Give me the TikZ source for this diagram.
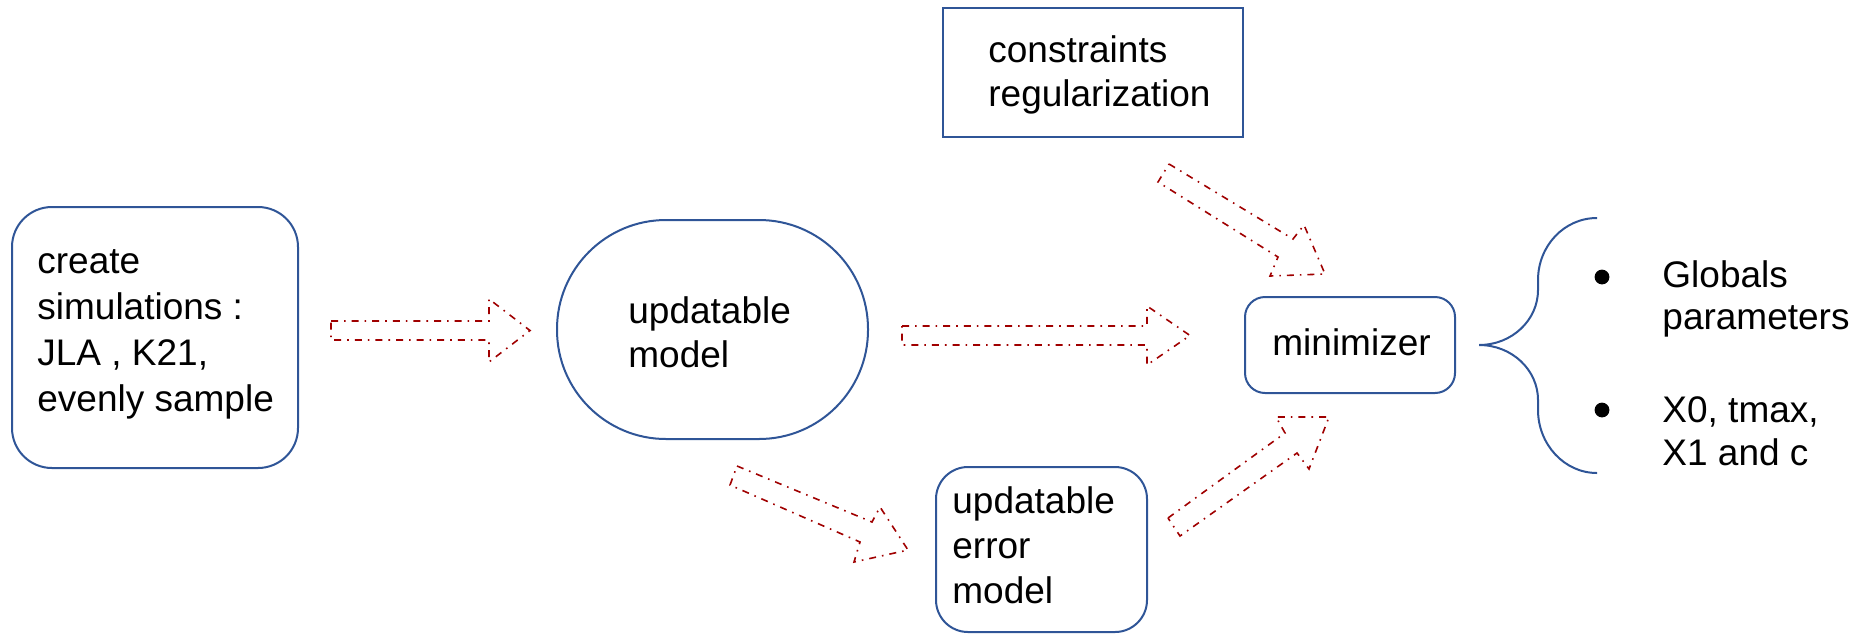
\documentclass[tikz,border=0pt]{standalone}
\usepackage{fontspec}
\setmainfont{Liberation Sans}
\usetikzlibrary{fit}
\definecolor{boxblue}{RGB}{47,85,151}
\definecolor{arrred}{RGB}{160,0,0}
\begin{document}
\begin{tikzpicture}[x=0.5pt,y=-0.5pt,
  box/.style={draw=boxblue, line width=1pt, inner sep=0pt},
  txt/.style={anchor=base west, inner sep=0pt, font=\fontsize{18.5}{23}\selectfont},
  blockarrow/.style={draw=arrred, line width=0.8pt, line join=miter,
     dash pattern=on 3.5pt off 3pt on 0.8pt off 3pt}]
\useasboundingbox (0,0) rectangle (1855,633);

% boxes
\node[box, rounded corners=20pt, fit={(12,207) (298,468)}] (create) {};
\node[box, rounded corners=54.5pt, fit={(557,220) (868,439)}] (model) {};
\node[box, fit={(943,8) (1243,137)}] (constr) {};
\node[box, rounded corners=10pt, fit={(1245,297) (1455,393)}] (minim) {};
\node[box, rounded corners=16pt, fit={(936,467) (1147,632)}] (errmod) {};

% texts
\node[txt] (t1) at (37,273) {create};
\node[txt] (t2) at (37,319) {simulations :};
\node[txt] (t3) at (37,365) {JLA , K21,};
\node[txt] (t4) at (37,411) {evenly sample};

\node[txt] (t5) at (628,323) {updatable};
\node[txt] (t6) at (628,367) {model};

\node[txt] (t7) at (988,62) {constraints};
\node[txt] (t8) at (988,106) {regularization};

\node[txt] (t9) at (1272,355) {minimizer};

\node[txt] (t10) at (952,513) {updatable};
\node[txt] (t11) at (952,558) {error};
\node[txt] (t12) at (952,603) {model};

\node[txt] (t13) at (1662,287) {Globals};
\node[txt] (t14) at (1662,329) {parameters};
\node[txt] (t15) at (1662,422) {X0, tmax,};
\node[txt] (t16) at (1662,465) {X1 and c};

% bullets
\fill (1602,277) circle (3.7pt);
\fill (1602,410) circle (3.7pt);

% brace
\draw[boxblue, line width=1pt]
  (1597,218) .. controls (1564,218) and (1538,246) .. (1538,280)
  -- (1538,290) .. controls (1538,320) and (1512,345) .. (1479,345)
  .. controls (1512,345) and (1538,370) .. (1538,400)
  -- (1538,410) .. controls (1538,444) and (1564,473) .. (1597,473);

% block arrows
\draw[blockarrow] (331,321) -- (489,321) -- (489,299) -- (530,330.5) -- (489,362) -- (489,340) -- (331,340) -- cycle;
\draw[blockarrow] (902,326) -- (1147,326) -- (1147,306) -- (1190,335.5) -- (1147,365) -- (1147,345) -- (902,345) -- cycle;
\draw[blockarrow] (1169,164) -- (1293,239) -- (1304,225) -- (1325,274) -- (1270,276) -- (1278,257) -- (1158,182) -- cycle;
\draw[blockarrow] (737,466) -- (872,522) -- (880,507) -- (908,550) -- (854,562) -- (860,542) -- (730,485) -- cycle;
\draw[blockarrow] (1168,518) -- (1285,433) -- (1276,417) -- (1329,417) -- (1309,469) -- (1297,453) -- (1180,536) -- cycle;
\end{tikzpicture}
\end{document}
